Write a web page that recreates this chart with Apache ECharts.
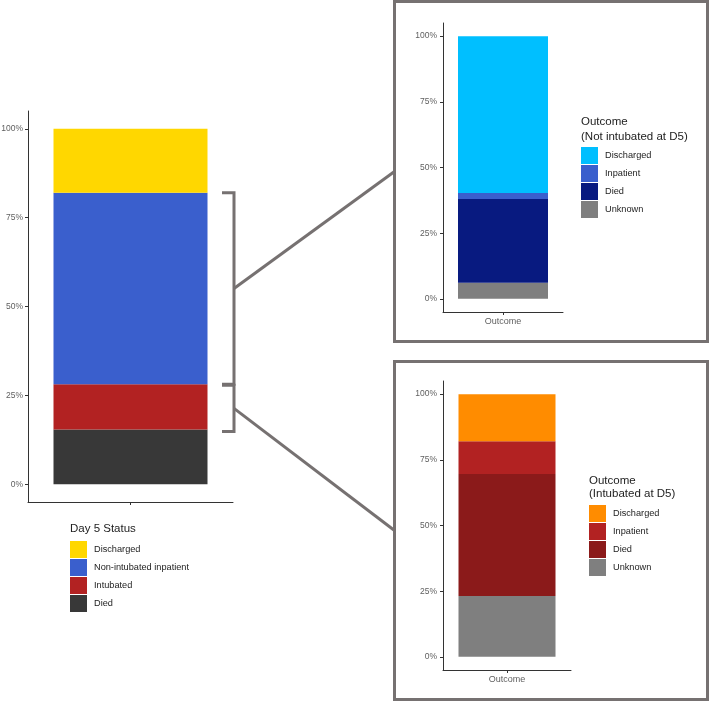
<!DOCTYPE html>
<html>
<head>
<meta charset="utf-8">
<title>Day 5 status and outcome</title>
<script src="https://cdn.jsdelivr.net/npm/echarts@6/dist/echarts.min.js"></script>
<style>
    html, body { margin: 0; padding: 0; background: #fff; }
    #main { width: 710px; height: 702px; }
</style>
</head>
<body>
<div id="main"></div>
<script>
// day 5 status, whole cohort (%), legend order top -> bottom
var d5Status = ['Discharged', 'Non-intubated inpatient', 'Intubated', 'Died'];
var d5Values = [18.0, 53.9, 12.7, 15.4];

// outcome breakdowns (%), legend order top -> bottom
var outcomeCats = ['Discharged', 'Inpatient', 'Died', 'Unknown'];
var notIntubatedValues = [59.7, 2.3, 31.9, 6.1];
var intubatedValues = [17.9, 12.5, 46.4, 23.2];

var yTicks = [0, 25, 50, 75, 100];
var leftCategory = [''];
var outcomeCategory = ['Outcome'];

var d5Colors = ['#FFD700', '#3A5FCD', '#B22222', '#383838'];
var notIntubatedColors = ['#00BFFF', '#3A5FCD', '#081A80', '#7F7F7F'];
var intubatedColors = ['#FF8C00', '#B22222', '#8B1A1A', '#7F7F7F'];

var FONT = '"Liberation Sans", Arial, sans-serif';
var AXIS_COLOR = '#333';
var LABEL_COLOR = '#5f5f5f';
var FRAME_COLOR = '#767171';

function xAxisFor(gridIndex, cats) {
    return {
        type: 'category',
        gridIndex: gridIndex,
        data: cats,
        boundaryGap: true,
        axisLine: { show: true, onZero: false, lineStyle: { color: AXIS_COLOR, width: 1 } },
        axisTick: { show: true, alignWithLabel: true, length: 3, lineStyle: { color: AXIS_COLOR } },
        axisLabel: { color: LABEL_COLOR, fontSize: 9, margin: 5, fontFamily: FONT },
        splitLine: { show: false }
    };
}

function yAxisFor(gridIndex, margin) {
    return {
        type: 'value',
        gridIndex: gridIndex,
        min: -5,
        max: 105,
        axisLine: { show: true, lineStyle: { color: AXIS_COLOR, width: 1 } },
        axisTick: { show: true, length: 3, customValues: yTicks, lineStyle: { color: AXIS_COLOR } },
        axisLabel: { color: LABEL_COLOR, fontSize: 8.5, margin: margin, fontFamily: FONT,
                     customValues: yTicks, formatter: '{value}%' },
        splitLine: { show: false }
    };
}

// series are stacked bottom-up, so walk the legend order backwards
function stackSeries(names, values, colors, axisIndex, tag, barWidth) {
    var out = [];
    for (var i = names.length - 1; i >= 0; i--) {
        out.push({
            name: names[i] + '#' + tag,
            type: 'bar',
            stack: tag,
            xAxisIndex: axisIndex,
            yAxisIndex: axisIndex,
            barWidth: barWidth,
            itemStyle: { color: colors[i] },
            data: [values[i]]
        });
    }
    return out;
}

function legendFor(names, tag, left, top) {
    return {
        orient: 'vertical',
        left: left,
        top: top,
        padding: 0,
        itemWidth: 17,
        itemHeight: 17,
        itemGap: 1,
        icon: 'rect',
        selectedMode: false,
        data: names.map(function (n) { return n + '#' + tag; }),
        formatter: function (name) { return name.split('#')[0]; },
        textStyle: { color: '#222', fontSize: 9.2, fontFamily: FONT, padding: [0, 0, 0, 2] }
    };
}

function legendTitle(text, left, top, lineHeight) {
    return {
        text: text,
        left: left,
        top: top,
        padding: 0,
        textStyle: { color: '#222', fontSize: 11.5, fontWeight: 'normal', fontFamily: FONT, lineHeight: lineHeight }
    };
}

var chart = echarts.init(document.getElementById('main'));

chart.setOption({
    animation: false,
    backgroundColor: '#fff',
    textStyle: { fontFamily: FONT },
    grid: [
        { left: 28, top: 111, width: 205, height: 391, outerBoundsMode: 'none' },
        { left: 443, top: 23, width: 120, height: 289, outerBoundsMode: 'none' },
        { left: 443, top: 381, width: 128, height: 289, outerBoundsMode: 'none' }
    ],
    xAxis: [
        xAxisFor(0, leftCategory),
        xAxisFor(1, outcomeCategory),
        xAxisFor(2, outcomeCategory)
    ],
    yAxis: [
        yAxisFor(0, 5),
        yAxisFor(1, 6),
        yAxisFor(2, 6)
    ],
    title: [
        legendTitle('Day 5 Status', 70, 522, 13),
        legendTitle('Outcome\n(Not intubated at D5)', 581, 115, 14.5),
        legendTitle('Outcome\n(Intubated at D5)', 589, 474, 13)
    ],
    legend: [
        legendFor(d5Status, 'd5', 70, 541),
        legendFor(outcomeCats, 'ni', 581, 147),
        legendFor(outcomeCats, 'in', 589, 505)
    ],
    series: [].concat(
        stackSeries(d5Status, d5Values, d5Colors, 0, 'd5', 154),
        stackSeries(outcomeCats, notIntubatedValues, notIntubatedColors, 1, 'ni', 90),
        stackSeries(outcomeCats, intubatedValues, intubatedColors, 2, 'in', 97)
    )
});

// brackets and connectors, placed from the stacked values of the left bar
function yPix(v) { return chart.convertToPixel({ yAxisIndex: 0 }, v); }

var diedTop = d5Values[3];
var intubTop = diedTop + d5Values[2];
var nonIntTop = intubTop + d5Values[1];

var bx = 234, bl = 222;
var b1Top = yPix(nonIntTop), b1Bot = yPix(intubTop);
var b2Top = yPix(intubTop) + 1, b2Bot = yPix(diedTop) + 2;
var topBox = { x: 394.5, y: 1.5, w: 313, h: 340 };
var botBox = { x: 394.5, y: 361.5, w: 313, h: 338 };

var lineStyle = { fill: null, stroke: FRAME_COLOR, lineWidth: 3 };

chart.setOption({
    graphic: [
        { type: 'rect', shape: { x: topBox.x, y: topBox.y, width: topBox.w, height: topBox.h }, style: lineStyle, z: 100 },
        { type: 'rect', shape: { x: botBox.x, y: botBox.y, width: botBox.w, height: botBox.h }, style: lineStyle, z: 100 },
        { type: 'polyline', shape: { points: [[bl, b1Top], [bx, b1Top], [bx, b1Bot], [bl, b1Bot]] }, style: lineStyle, z: 100 },
        { type: 'polyline', shape: { points: [[bl, b2Top], [bx, b2Top], [bx, b2Bot], [bl, b2Bot]] }, style: lineStyle, z: 100 },
        { type: 'line', shape: { x1: bx, y1: (b1Top + b1Bot) / 2, x2: topBox.x, y2: topBox.y + topBox.h / 2 }, style: lineStyle, z: 100 },
        { type: 'line', shape: { x1: bx, y1: (b2Top + b2Bot) / 2, x2: botBox.x, y2: botBox.y + botBox.h / 2 }, style: lineStyle, z: 100 }
    ]
});
</script>
</body>
</html>
